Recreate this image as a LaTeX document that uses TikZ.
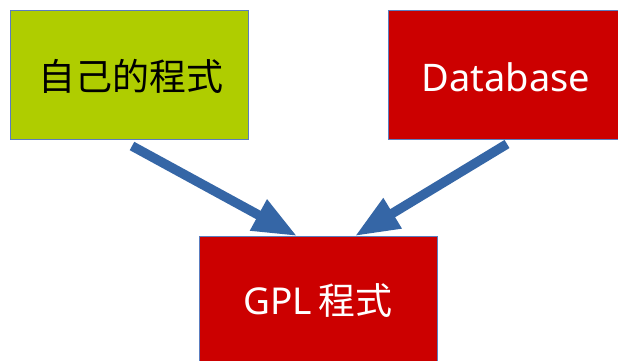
\documentclass[tikz,border=0pt]{standalone}
\usepackage{fontspec}
\setmainfont{Noto Sans}
\newfontfamily\cjk{Noto Sans CJK TC}
\usetikzlibrary{arrows.meta}
\definecolor{boxgreen}{HTML}{AFCD00}
\definecolor{boxred}{HTML}{CC0000}
\definecolor{edgeblue}{HTML}{5B7DBF}
\definecolor{arrowblue}{HTML}{3566A6}
\tikzset{
  box/.style={draw=edgeblue, line width=0.8pt},
  bigarrow/.style={draw=arrowblue, line width=9.5pt,
    -{Triangle[length=44pt,width=33pt]}},
  lbl/.style={inner sep=0pt, font=\fontsize{37}{40}\selectfont}
}
\begin{document}
\begin{tikzpicture}[x=1pt,y=-1pt]
\useasboundingbox (0,0) rectangle (618,361);
\fill[white] (0,0) rectangle (618,361);
\begin{scope}
\clip (0,0) rectangle (618,361);
\draw[box, fill=boxgreen] (10,10) rectangle (248,139);
\draw[box, fill=boxred] (388,10) rectangle (640,139);
\draw[box, fill=boxred] (199,236) rectangle (437,380);
\end{scope}
\node[lbl] (own) at (131,76) {\cjk 自己的程式};
\node[lbl, text=white, font=\fontsize{38}{40}\selectfont] (db) at (506,77) {Database};
\node[lbl, text=white] (gpl) at (318,301) {GPL\,{\cjk 程式}};
\coordinate (ownout) at (132,146);
\coordinate (dbout) at (507,144);
\coordinate (gplinL) at (297,236);
\coordinate (gplinR) at (355,236);
\draw[bigarrow] (ownout) -- (gplinL);
\draw[bigarrow] (dbout) -- (gplinR);
\end{tikzpicture}
\end{document}
